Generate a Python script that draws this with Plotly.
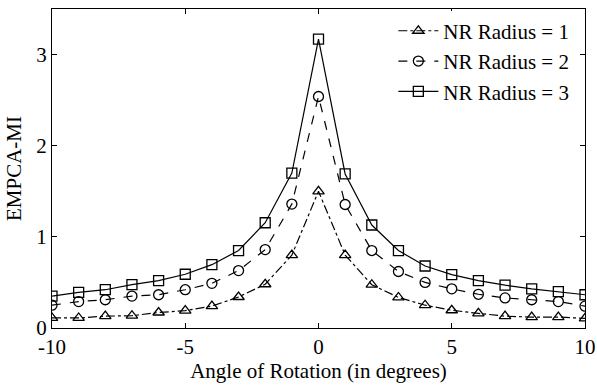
import plotly.graph_objects as go

angles = list(range(-10, 11))
r1 = [0.11, 0.11, 0.13, 0.135, 0.17, 0.19, 0.24, 0.34, 0.48, 0.80, 1.50,
      0.80, 0.475, 0.335, 0.25, 0.195, 0.16, 0.13, 0.12, 0.12, 0.105]
r2 = [0.25, 0.29, 0.31, 0.35, 0.365, 0.42, 0.49, 0.63, 0.86, 1.36, 2.54,
      1.355, 0.85, 0.62, 0.50, 0.43, 0.37, 0.33, 0.31, 0.29, 0.24]
r3 = [0.35, 0.39, 0.42, 0.475, 0.52, 0.59, 0.695, 0.85, 1.155, 1.70, 3.17,
      1.69, 1.13, 0.85, 0.68, 0.585, 0.52, 0.47, 0.43, 0.40, 0.365]
names = ["NR Radius = 1", "NR Radius = 2", "NR Radius = 3"]
xticks = [-10, -5, 0, 5, 10]
yticks = [0, 1, 2, 3]

font = "Liberation Serif"
fs = 21
fig = go.Figure()
styles = [("dashdot", "triangle-up-open"), ("dash", "circle-open"), ("solid", "square-open")]
for ys, name, (dash, sym) in zip([r1, r2, r3], names, styles):
    fig.add_trace(go.Scatter(
        x=angles, y=ys, name=name, mode="lines+markers",
        line=dict(color="black", width=1.2, dash=dash),
        marker=dict(symbol=sym, size=10, color="black", line=dict(width=1.3, color="black")),
    ))

axis_common = dict(
    showline=True, linecolor="black", linewidth=1.2, mirror="ticks",
    ticks="inside", ticklen=5, tickcolor="black", showgrid=False, zeroline=False,
    tickfont=dict(family=font, size=fs, color="black"), automargin=False,
)
fig.update_xaxes(range=[-10, 10], tickvals=xticks, ticktext=[str(v) for v in xticks],
                 title=dict(text="Angle of Rotation (in degrees)", font=dict(family=font, size=fs, color="black"), standoff=3),
                 **axis_common)
fig.update_yaxes(range=[0, 3.5], tickvals=yticks, ticktext=[str(v) for v in yticks],
                 title=dict(text="EMPCA-MI", font=dict(family=font, size=fs, color="black"), standoff=8),
                 **axis_common)
fig.update_layout(
    width=597, height=387, margin=dict(l=52, r=12, t=9, b=59),
    plot_bgcolor="white", paper_bgcolor="white",
    font=dict(family=font, size=fs, color="black"),
    legend=dict(x=0.98, y=0.995, xanchor="right", yanchor="top",
                bgcolor="white", borderwidth=0,
                font=dict(family=font, size=fs, color="black"),
                tracegroupgap=0, itemwidth=40),
    showlegend=True,
)
fig.write_html("out.html", config={"displayModeBar": False},
               post_script="document.body.style.margin='0';")
